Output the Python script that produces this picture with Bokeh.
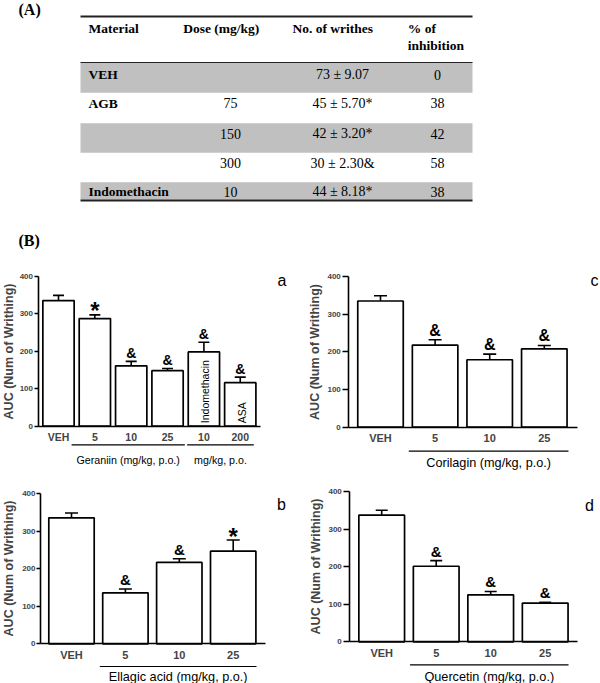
import numpy as np
from bokeh.plotting import figure
from bokeh.models import Range1d, LinearAxis, FixedTicker, Whisker, TeeHead, ColumnDataSource
from bokeh.layouts import column, row
from bokeh.core.properties import value
from bokeh.embed import file_html
from bokeh.resources import INLINE

SANS = "Liberation Sans"
SERIF = "Liberation Serif"

# ---------------- data: table (A) ----------------
table_header = ["Material", "Dose (mg/kg)", "No. of writhes", "% of\ninhibition"]
table_material = ["VEH", "AGB", "", "", "Indomethacin"]
table_dose = ["", "75", "150", "300", "10"]
table_writhes = ["73 ± 9.07", "45 ± 5.70*", "42 ± 3.20*", "30 ± 2.30&", "44 ± 8.18*"]
table_inhibition = ["0", "38", "42", "58", "38"]

# ---------------- data: panels (B) ----------------
y_ticks = [0, 100, 200, 300, 400]
y_title = "AUC (Num of Writhing)"

a_labels = ["VEH", "5", "10", "25", "10", "200"]
a_auc = [335, 287, 161, 148, 198, 116]
a_sem = [14, 10, 12, 6, 26, 15]
a_sig = ["", "*", "&", "&", "&", "&"]
a_inbar = ["", "", "", "", "Indomethacin", "ASA"]
a_groups = [(2, 4, "Geraniin (mg/kg, p.o.)"), (5, 6, "mg/kg, p.o.")]

b_labels = ["VEH", "5", "10", "25"]
b_auc = [336, 136, 217, 247]
b_sem = [13, 10, 10, 30]
b_sig = ["", "&", "&", "*"]
b_groups = [(2, 4, "Ellagic acid (mg/kg, p.o.)")]

c_labels = ["VEH", "5", "10", "25"]
c_auc = [335, 218, 179, 208]
c_sem = [14, 14, 15, 9]
c_sig = ["", "&", "&", "&"]
c_groups = [(2, 4, "Corilagin (mg/kg, p.o.)")]

d_labels = ["VEH", "5", "10", "25"]
d_auc = [337, 201, 125, 103]
d_sem = [13, 15, 9, 2]
d_sig = ["", "&", "&", "&"]
d_groups = [(2, 4, "Quercetin (mg/kg, p.o.)")]


def build_panel(fx, fy, W, H, L, labels, auc, sem, sig, groups, letter, inbar=None):
    sx = L["step"]
    sy = (L["y0"] - L["y400"]) / 400.0

    def xd(px):
        return 1 + (px - L["c1"]) / sx

    def yd(py):
        return (L["y0"] - py) / sy

    p = figure(width=W, height=H,
               x_range=Range1d(xd(fx), xd(fx + W)),
               y_range=Range1d(yd(fy + H), yd(fy)),
               output_backend="svg", toolbar_location=None,
               x_axis_location=None, y_axis_location=None,
               min_border=0, outline_line_color=None)
    p.grid.visible = False

    n = len(auc)
    xs = list(range(1, n + 1))
    upper = [a + s for a, s in zip(auc, sem)]
    src = ColumnDataSource(dict(x=xs, auc=auc, upper=upper))

    p.vbar(x="x", top="auc", bottom=0, width=L["barw"] / sx, source=src,
           fill_color="white", line_color="black", line_width=1.7)
    p.add_layout(Whisker(source=src, base="x", lower="auc", upper="upper",
                         dimension="height", line_color="black", line_width=1.6,
                         upper_head=TeeHead(size=L["cap"], line_width=1.6, line_color="black"),
                         lower_head=None))

    amp = [i for i in range(n) if sig[i] == "&"]
    if amp:
        p.text(x=[xs[i] for i in amp], y=[upper[i] + L["ampgap"] / sy for i in amp],
               text=["&"] * len(amp),
               text_font=value(SANS), text_font_style="bold", text_font_size=L["amp"],
               text_align="center", text_baseline="middle", text_color="black")
    star = [i for i in range(n) if sig[i] == "*"]
    if star:
        p.text(x=[xs[i] for i in star], y=[upper[i] + L["stargap"] / sy for i in star],
               text=["*"] * len(star),
               text_font=value(SANS), text_font_style="bold", text_font_size="24px",
               text_align="center", text_baseline="middle", text_color="black")

    if inbar:
        idx = [i for i in range(n) if inbar[i]]
        p.text(x=[xs[i] + 1.5 / sx for i in idx], y=[3 / sy] * len(idx),
               text=[inbar[i] for i in idx],
               angle=np.pi / 2, text_font=value(SANS), text_font_size="10.5px",
               text_align="left", text_baseline="middle", text_color="black")

    for (g0, g1, name), (e0, e1) in zip(groups, L["gext"]):
        x0 = g0 - e0
        x1 = g1 + e1
        p.segment(x0=[x0], y0=[yd(L["uline"])], x1=[x1], y1=[yd(L["uline"])],
                  line_color="black", line_width=1.2)
        p.text(x=[(x0 + x1) / 2], y=[yd(L["glabel"])], text=[name],
               text_font=value(SANS), text_font_size=L["gfs"], text_align="center",
               text_baseline="middle", text_color="black")

    p.text(x=[xd(L["lx"])], y=[yd(L["ly"])], text=[letter], text_font=value(SANS),
           text_font_size="16px", text_align="center", text_baseline="middle",
           text_color="black")

    yax = LinearAxis(fixed_location=xd(L["axis"]), bounds=(0, 400),
                     ticker=FixedTicker(ticks=y_ticks), axis_label=y_title)
    yax.axis_line_color = "black"
    yax.axis_line_width = 1.6
    yax.major_tick_line_width = 1.5
    yax.major_tick_out = L["tick"]
    yax.major_tick_in = 0
    yax.minor_tick_line_color = None
    yax.major_label_text_font = SANS
    yax.major_label_text_font_style = "bold"
    yax.major_label_text_font_size = "8px"
    yax.major_label_standoff = L["ystand"]
    yax.axis_label_text_font = SANS
    yax.axis_label_text_font_style = "bold"
    yax.axis_label_text_font_size = "12.5px"
    yax.axis_label_standoff = L["lstand"]
    p.add_layout(yax, "left")

    xax = LinearAxis(fixed_location=0, bounds=(xd(L["axis"]), xd(L["xend"])),
                     ticker=FixedTicker(ticks=xs),
                     major_label_overrides={x: lab for x, lab in zip(xs, labels)})
    xax.axis_line_color = "black"
    xax.axis_line_width = 1.6
    xax.major_tick_line_color = None
    xax.major_tick_out = 0
    xax.major_tick_in = 0
    xax.minor_tick_line_color = None
    xax.major_label_standoff = 5
    xax.major_label_text_font = SANS
    xax.major_label_text_font_style = "bold"
    xax.major_label_text_font_size = L["xfs"]
    p.add_layout(xax, "below")
    return p


# ---------------- table figure (page pixel coordinates) ----------------
t = figure(width=600, height=260, x_range=Range1d(0, 600), y_range=Range1d(260, 0),
           output_backend="svg", toolbar_location=None,
           x_axis_location=None, y_axis_location=None,
           min_border=0, outline_line_color=None)
t.grid.visible = False

T_LEFT, T_RIGHT = 80, 472
row_top = [62, 92.3, 122.7, 152.3, 181.7]
row_bot = [92.3, 122.7, 152.3, 181.7, 199.3]
row_text_y = [74, 102.5, 133, 162.5, 191]
shade = [i for i in range(len(table_material)) if i % 2 == 0]
t.quad(left=[T_LEFT] * len(shade), right=[T_RIGHT] * len(shade),
       top=[row_top[i] for i in shade], bottom=[row_bot[i] for i in shade],
       fill_color="#c0c0c0", line_color=None)
t.segment(x0=[T_LEFT, T_LEFT, T_LEFT], x1=[T_RIGHT, T_RIGHT, T_RIGHT],
          y0=[16, 62, 200], y1=[16, 62, 200],
          line_color="#222222", line_width=[2.2, 1.0, 2.2])

head_x = [88, 182.7, 292, 407.3]
hx, hy, ht = [], [], []
for x, h in zip(head_x, table_header):
    for k, line in enumerate(h.split("\n")):
        hx.append(x)
        hy.append(27.5 + 17 * k)
        ht.append(line)
t.text(x=hx, y=hy, text=ht, text_font=value(SERIF), text_font_style="bold",
       text_font_size="13.5px", text_align="left", text_baseline="middle", text_color="black")

t.text(x=[88] * len(table_material), y=row_text_y, text=table_material,
       text_font=value(SERIF), text_font_style="bold", text_font_size="13.5px",
       text_align="left", text_baseline="middle", text_color="black")
t.text(x=[230] * len(table_dose), y=row_text_y, text=table_dose,
       text_font=value(SERIF), text_font_size="14px",
       text_align="center", text_baseline="middle", text_color="black")
t.text(x=[342] * len(table_writhes), y=row_text_y, text=table_writhes,
       text_font=value(SERIF), text_font_size="14px",
       text_align="center", text_baseline="middle", text_color="black")
t.text(x=[437] * len(table_inhibition), y=row_text_y, text=table_inhibition,
       text_font=value(SERIF), text_font_size="14px",
       text_align="center", text_baseline="middle", text_color="black")
t.text(x=[18, 18], y=[8.5, 240], text=["(A)", "(B)"], text_font=value(SERIF),
       text_font_style="bold", text_font_size="16px", text_align="left",
       text_baseline="middle", text_color="black")

# ---------------- panel layouts (page pixels) ----------------
LA = dict(step=36.35, c1=58, y0=425.7, y400=275.7, barw=31.3, cap=11, axis=37.5, xend=260,
          tick=4, ystand=1, lstand=1, amp="14px", ampgap=8.5, stargap=4, xfs="10.5px",
          gfs="10.7px", uline=444.3, glabel=459.5, gext=[(0.64, 0.475), (0.46, 0.373)],
          lx=281.5, ly=280)
LC = dict(step=54.6, c1=380, y0=426.7, y400=276, barw=45.5, cap=13, axis=348.3, xend=576.7,
          tick=6, ystand=2, lstand=2, amp="16px", ampgap=9.5, stargap=4, xfs="11px",
          gfs="12.7px", uline=450.7, glabel=462.7, gext=[(0.482, 0.443)], lx=594, ly=280)
LB = dict(step=53.9, c1=71, y0=643.3, y400=493.3, barw=45.4, cap=13, axis=40, xend=265,
          tick=4, ystand=1, lstand=3, amp="15px", ampgap=9.5, stargap=3, xfs="11px",
          gfs="12.7px", uline=666, glabel=676.5, gext=[(0.475, 0.432)], lx=281, ly=504)
LD = dict(step=54.5, c1=381.2, y0=641.3, y400=491, barw=45.7, cap=12, axis=349.3, xend=576.7,
          tick=6, ystand=2, lstand=2, amp="15px", ampgap=9.5, stargap=4, xfs="11px",
          gfs="12.7px", uline=664.3, glabel=676.5, gext=[(0.48, 0.428)], lx=589, ly=505)

pa = build_panel(0, 260, 300, 220, LA, a_labels, a_auc, a_sem, a_sig, a_groups, "a", a_inbar)
pc = build_panel(300, 260, 300, 220, LC, c_labels, c_auc, c_sem, c_sig, c_groups, "c")
pb = build_panel(0, 480, 300, 203, LB, b_labels, b_auc, b_sem, b_sig, b_groups, "b")
pd_ = build_panel(300, 480, 300, 203, LD, d_labels, d_auc, d_sem, d_sig, d_groups, "d")

layout = column(t, row(pa, pc), row(pb, pd_))
open("out.html", "w").write(file_html(layout, INLINE))
